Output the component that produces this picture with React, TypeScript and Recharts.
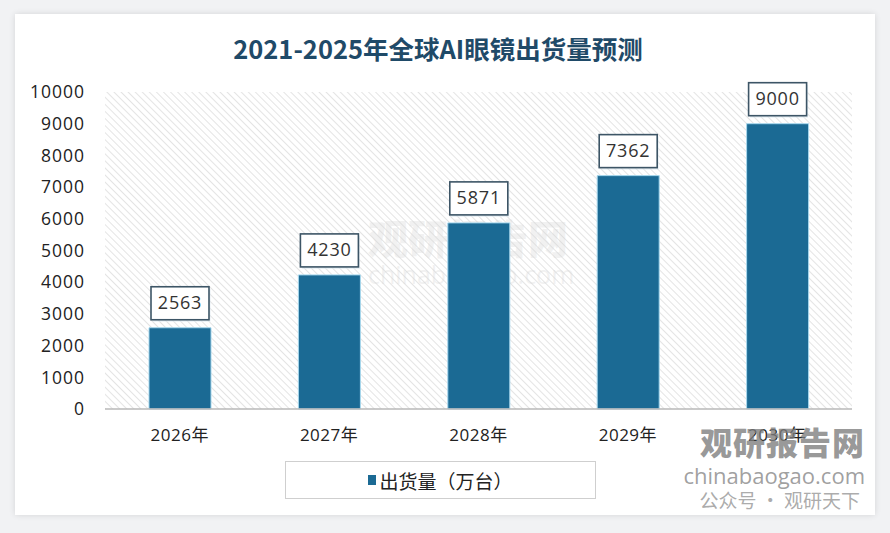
import { BarChart, Bar, XAxis, YAxis, CartesianGrid, LabelList } from 'recharts';

const categories = ['2026年', '2027年', '2028年', '2029年', '2030年'];
const shipments = [2563, 4230, 5871, 7362, 9000];
const yTicks = [0, 1000, 2000, 3000, 4000, 5000, 6000, 7000, 8000, 9000, 10000];

const title = '2021-2025年全球AI眼镜出货量预测';
const seriesName = '出货量（万台）';

const data = categories.map((year, i) => ({ year, value: shipments[i] }));

const BAR_COLOR = '#1b6a94';
const NUM_FONT = '"Open Sans", "Noto Sans CJK SC", sans-serif';
const CJK_FONT = '"Noto Sans CJK SC", "Noto Sans", sans-serif';

function ValueBox(props: any) {
  const { x, y, width, value } = props;
  const w = 58;
  const h = 33;
  const cx = x + width / 2;
  const top = y - 8 - h;
  return (
    <g>
      <rect x={cx - w / 2 + 1.5} y={top + 2} width={w} height={h} fill="#d9e6ee" opacity={0.6} />
      <rect x={cx - w / 2} y={top} width={w} height={h} fill="#fff" stroke="#3d5566" strokeWidth={1.6} />
      <text
        x={cx}
        y={top + h / 2 + 1}
        textAnchor="middle"
        dominantBaseline="middle"
        fontSize={18}
        fontFamily={NUM_FONT}
        letterSpacing={0.8}
        fill="#333"
      >
        {value}
      </text>
    </g>
  );
}

export default function App() {
  return (
    <div style={styles.page}>
      <div style={styles.card} />
      <div style={styles.title}>{title}</div>

      {/* faint watermark behind the plot */}
      <div style={{ ...styles.mark, left: 368, top: 216, fontSize: 40, lineHeight: '42px', fontWeight: 900, color: 'rgba(215,215,215,0.35)' }}>
        观研报告网
      </div>
      <div style={{ ...styles.mark, left: 368, top: 260, fontSize: 25, lineHeight: '28px', fontFamily: NUM_FONT, color: 'rgba(215,215,215,0.35)' }}>
        chinabaogao.com
      </div>

      <div style={{ position: 'absolute', left: 0, top: 0 }}>
        <BarChart width={890} height={533} data={data} margin={{ top: 92, right: 38, bottom: 94, left: 45 }}>
          <defs>
            <pattern id="hatch" width="5" height="5" patternUnits="userSpaceOnUse" patternTransform="rotate(-45)">
              <line x1="0" y1="0" x2="0" y2="5" stroke="#d6d6d6" strokeWidth={1.3} />
            </pattern>
          </defs>
          <CartesianGrid horizontal={false} vertical={false} fill="url(#hatch)" stroke="none" />
          <XAxis
            dataKey="year"
            height={30}
            axisLine={{ stroke: '#b8b8b8', strokeWidth: 1.5 }}
            tickLine={false}
            tickMargin={14}
            tick={{ fontSize: 17, fill: '#222', fontFamily: NUM_FONT, letterSpacing: 0.5 }}
          />
          <YAxis
            width={60}
            domain={[0, 10000]}
            ticks={yTicks}
            interval={0}
            axisLine={false}
            tickLine={false}
            tickMargin={14}
            tick={{ fontSize: 17.5, fill: '#222', fontFamily: NUM_FONT, letterSpacing: 1 }}
          />
          <Bar dataKey="value" barSize={62} fill={BAR_COLOR} stroke="#a8d8ee" strokeWidth={1} isAnimationActive={false}>
            <LabelList dataKey="value" content={<ValueBox />} />
          </Bar>
        </BarChart>
      </div>

      <div style={styles.legend}>
        <span style={styles.legendMark} />
        <span>{seriesName}</span>
      </div>

      {/* corner watermark */}
      <div style={{ ...styles.mark, right: 25, top: 422, fontSize: 32, lineHeight: '38px', fontWeight: 900, letterSpacing: 1, color: 'rgba(125,125,125,0.8)' }}>
        观研报告网
      </div>
      <div style={{ ...styles.mark, right: 25, top: 463, fontSize: 22, lineHeight: '24px', fontFamily: NUM_FONT, color: 'rgba(135,135,135,0.8)' }}>
        chinabaogao.com
      </div>
      <div style={{ ...styles.mark, right: 30, top: 489, fontSize: 19, lineHeight: '22px', color: 'rgba(150,150,150,0.8)' }}>
        公众号 · 观研天下
      </div>
    </div>
  );
}

const styles: Record<string, React.CSSProperties> = {
  page: {
    position: 'fixed',
    left: 0,
    top: 0,
    width: 890,
    height: 533,
    background: '#f1f2f4',
    overflow: 'hidden',
  },
  card: {
    position: 'absolute',
    left: 15,
    top: 14,
    width: 860,
    height: 501,
    background: '#fff',
    boxShadow: '0 0 6px rgba(0,0,0,0.12)',
  },
  title: {
    position: 'absolute',
    left: 0,
    top: 30,
    width: 876,
    textAlign: 'center',
    fontFamily: CJK_FONT,
    fontWeight: 700,
    fontSize: 25.5,
    lineHeight: '36px',
    color: '#1f4a68',
  },
  mark: {
    position: 'absolute',
    fontFamily: CJK_FONT,
    whiteSpace: 'nowrap',
    pointerEvents: 'none',
  },
  legend: {
    position: 'absolute',
    left: 285,
    top: 461,
    width: 311,
    height: 38,
    border: '1px solid #cfcfcf',
    background: '#fff',
    display: 'flex',
    alignItems: 'center',
    justifyContent: 'center',
    fontFamily: CJK_FONT,
    fontSize: 19,
    color: '#222',
    boxSizing: 'border-box',
  },
  legendMark: {
    display: 'inline-block',
    width: 8,
    height: 10,
    background: BAR_COLOR,
    marginRight: 3,
  },
};
